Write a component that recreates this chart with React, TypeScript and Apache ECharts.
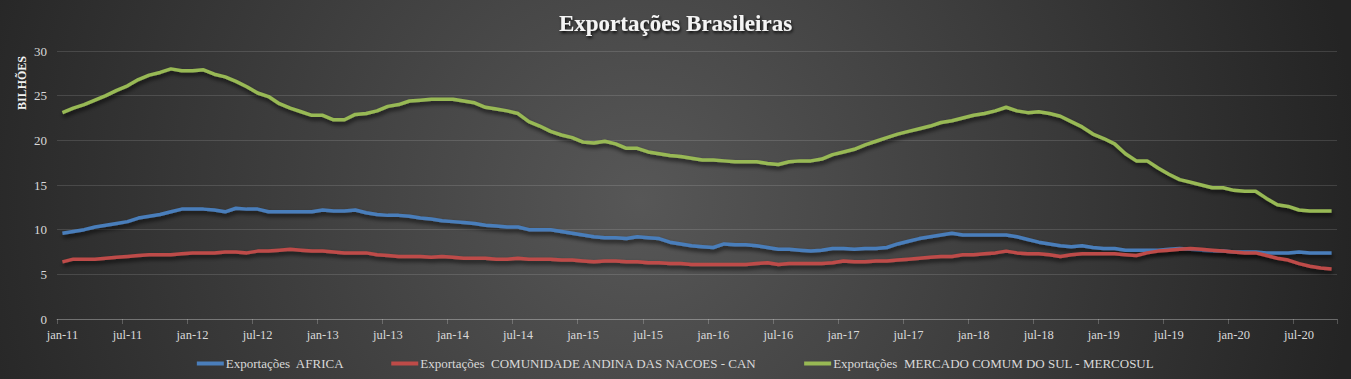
import React, { useEffect, useRef } from "react";
import * as echarts from "echarts";

const monthNames = ["jan", "fev", "mar", "abr", "mai", "jun", "jul", "ago", "set", "out", "nov", "dez"];
const years = [11, 12, 13, 14, 15, 16, 17, 18, 19, 20];
const categories: string[] = [];
for (const y of years) {
  for (const m of monthNames) {
    if (categories.length < 118) categories.push(`${m}-${y}`);
  }
}

const africa = [
  9.6, 9.8, 10.0, 10.3, 10.5, 10.7, 10.9, 11.3, 11.5, 11.7, 12.0, 12.3,
  12.3, 12.3, 12.2, 12.0, 12.4, 12.3, 12.3, 12.0, 12.0, 12.0, 12.0, 12.0,
  12.2, 12.1, 12.1, 12.2, 11.9, 11.7, 11.6, 11.6, 11.5, 11.3, 11.2, 11.0,
  10.9, 10.8, 10.7, 10.5, 10.4, 10.3, 10.3, 10.0, 10.0, 10.0, 9.8, 9.6,
  9.4, 9.2, 9.1, 9.1, 9.0, 9.2, 9.1, 9.0, 8.6, 8.4, 8.2, 8.1,
  8.0, 8.4, 8.3, 8.3, 8.2, 8.0, 7.8, 7.8, 7.7, 7.6, 7.7, 7.9,
  7.9, 7.8, 7.9, 7.9, 8.0, 8.4, 8.7, 9.0, 9.2, 9.4, 9.6, 9.4,
  9.4, 9.4, 9.4, 9.4, 9.2, 8.9, 8.6, 8.4, 8.2, 8.1, 8.2, 8.0,
  7.9, 7.9, 7.7, 7.7, 7.7, 7.7, 7.8, 7.9, 7.8, 7.7, 7.6, 7.6,
  7.5, 7.5, 7.5, 7.4, 7.4, 7.4, 7.5, 7.4, 7.4, 7.4,
];

const can = [
  6.4, 6.7, 6.7, 6.7, 6.8, 6.9, 7.0, 7.1, 7.2, 7.2, 7.2, 7.3,
  7.4, 7.4, 7.4, 7.5, 7.5, 7.4, 7.6, 7.6, 7.7, 7.8, 7.7, 7.6,
  7.6, 7.5, 7.4, 7.4, 7.4, 7.2, 7.1, 7.0, 7.0, 7.0, 6.9, 7.0,
  6.9, 6.8, 6.8, 6.8, 6.7, 6.7, 6.8, 6.7, 6.7, 6.7, 6.6, 6.6,
  6.5, 6.4, 6.5, 6.5, 6.4, 6.4, 6.3, 6.3, 6.2, 6.2, 6.1, 6.1,
  6.1, 6.1, 6.1, 6.1, 6.2, 6.3, 6.1, 6.2, 6.2, 6.2, 6.2, 6.3,
  6.5, 6.4, 6.4, 6.5, 6.5, 6.6, 6.7, 6.8, 6.9, 7.0, 7.0, 7.2,
  7.2, 7.3, 7.4, 7.6, 7.4, 7.3, 7.3, 7.2, 7.0, 7.2, 7.3, 7.3,
  7.3, 7.3, 7.2, 7.1, 7.4, 7.6, 7.7, 7.8, 7.9, 7.8, 7.7, 7.6,
  7.5, 7.4, 7.4, 7.1, 6.8, 6.6, 6.2, 5.9, 5.7, 5.6,
];

const mercosul = [
  23.1, 23.6, 24.0, 24.5, 25.0, 25.6, 26.1, 26.8, 27.3, 27.6, 28.0, 27.8,
  27.8, 27.9, 27.4, 27.1, 26.6, 26.0, 25.3, 24.9, 24.1, 23.6, 23.2, 22.8,
  22.8, 22.3, 22.3, 22.9, 23.0, 23.3, 23.8, 24.0, 24.4, 24.5, 24.6, 24.6,
  24.6, 24.4, 24.2, 23.7, 23.5, 23.3, 23.0, 22.1, 21.6, 21.0, 20.6, 20.3,
  19.8, 19.7, 19.9, 19.6, 19.1, 19.1, 18.7, 18.5, 18.3, 18.2, 18.0, 17.8,
  17.8, 17.7, 17.6, 17.6, 17.6, 17.4, 17.3, 17.6, 17.7, 17.7, 17.9, 18.4,
  18.7, 19.0, 19.5, 19.9, 20.3, 20.7, 21.0, 21.3, 21.6, 22.0, 22.2, 22.5,
  22.8, 23.0, 23.3, 23.7, 23.3, 23.1, 23.2, 23.0, 22.7, 22.1, 21.5, 20.7,
  20.2, 19.6, 18.5, 17.7, 17.7, 16.9, 16.2, 15.6, 15.3, 15.0, 14.7, 14.7,
  14.4, 14.3, 14.3, 13.5, 12.8, 12.6, 12.2, 12.1, 12.1, 12.1,
];

const seriesNames = [
  "Exportações  AFRICA",
  "Exportações  COMUNIDADE ANDINA DAS NACOES - CAN",
  "Exportações  MERCADO COMUM DO SUL - MERCOSUL",
];
const seriesColors = ["#4a7ebb", "#be4b48", "#98b954"];
const yTicks = [0, 5, 10, 15, 20, 25, 30];

const serif = "'Liberation Serif', 'Times New Roman', serif";

export default function App() {
  const ref = useRef<HTMLDivElement>(null);
  useEffect(() => {
    document.body.style.margin = "0";
    if (!ref.current) return;
    const chart = echarts.init(ref.current, undefined, { renderer: "svg" });
    const data = [africa, can, mercosul];
    chart.setOption({
      animation: false,
      backgroundColor: "transparent",
      title: {
        text: "Exportações Brasileiras",
        left: "center",
        top: 7,
        textStyle: {
          fontFamily: serif,
          fontSize: 23,
          fontWeight: "bold",
          color: "#f4f4f4",
          textShadowColor: "rgba(0,0,0,0.85)",
          textShadowBlur: 3,
          textShadowOffsetX: 1,
          textShadowOffsetY: 2,
        },
      },
      graphic: [
        {
          type: "text",
          x: 22,
          y: 83,
          rotation: Math.PI / 2,
          style: {
            text: "BILHÕES",
            textAlign: "center",
            textVerticalAlign: "middle",
            fill: "#f2f2f2",
            font: `bold 12px ${serif}`,
          },
        },
      ],
      legend: {
        left: "center",
        top: 352,
        icon: "rect",
        itemWidth: 27,
        itemHeight: 4,
        itemGap: 47,
        textStyle: { fontFamily: serif, fontSize: 13, color: "#d9d9d9", padding: [0, 0, 0, -3] },
        data: seriesNames,
      },
      grid: { left: 57, right: 14, top: 51, bottom: 60, containLabel: false },
      xAxis: {
        type: "category",
        data: categories,
        boundaryGap: true,
        axisLine: { lineStyle: { color: "rgba(255,255,255,0.22)", width: 1 } },
        axisTick: { show: true, interval: 5, length: 5, lineStyle: { color: "rgba(255,255,255,0.22)" } },
        axisLabel: {
          interval: 5,
          fontFamily: serif,
          fontSize: 12.5,
          color: "#d9d9d9",
          margin: 9,
        },
        splitLine: { show: false },
      },
      yAxis: {
        type: "value",
        min: yTicks[0],
        max: yTicks[yTicks.length - 1],
        interval: 5,
        axisLine: { show: false },
        axisTick: { show: false },
        axisLabel: { fontFamily: serif, fontSize: 13, color: "#d9d9d9", margin: 10 },
        splitLine: { lineStyle: { color: "rgba(255,255,255,0.13)", width: 1 } },
      },
      series: seriesNames.map((name, i) => ({
        name,
        type: "line",
        data: data[i],
        showSymbol: false,
        symbol: "none",
        smooth: false,
        color: seriesColors[i],
        lineStyle: {
          width: 3.5,
          color: seriesColors[i],
          shadowColor: "rgba(0,0,0,0.7)",
          shadowBlur: 4,
          shadowOffsetX: 1,
          shadowOffsetY: 3,
        },
      })),
    });
    return () => chart.dispose();
  }, []);
  return (
    <div
      ref={ref}
      style={{
        position: "absolute",
        left: 0,
        top: 0,
        width: 1351,
        height: 379,
        background: "radial-gradient(circle 720px at 640px 200px, #575757 0%, #242424 100%)",
      }}
    />
  );
}
